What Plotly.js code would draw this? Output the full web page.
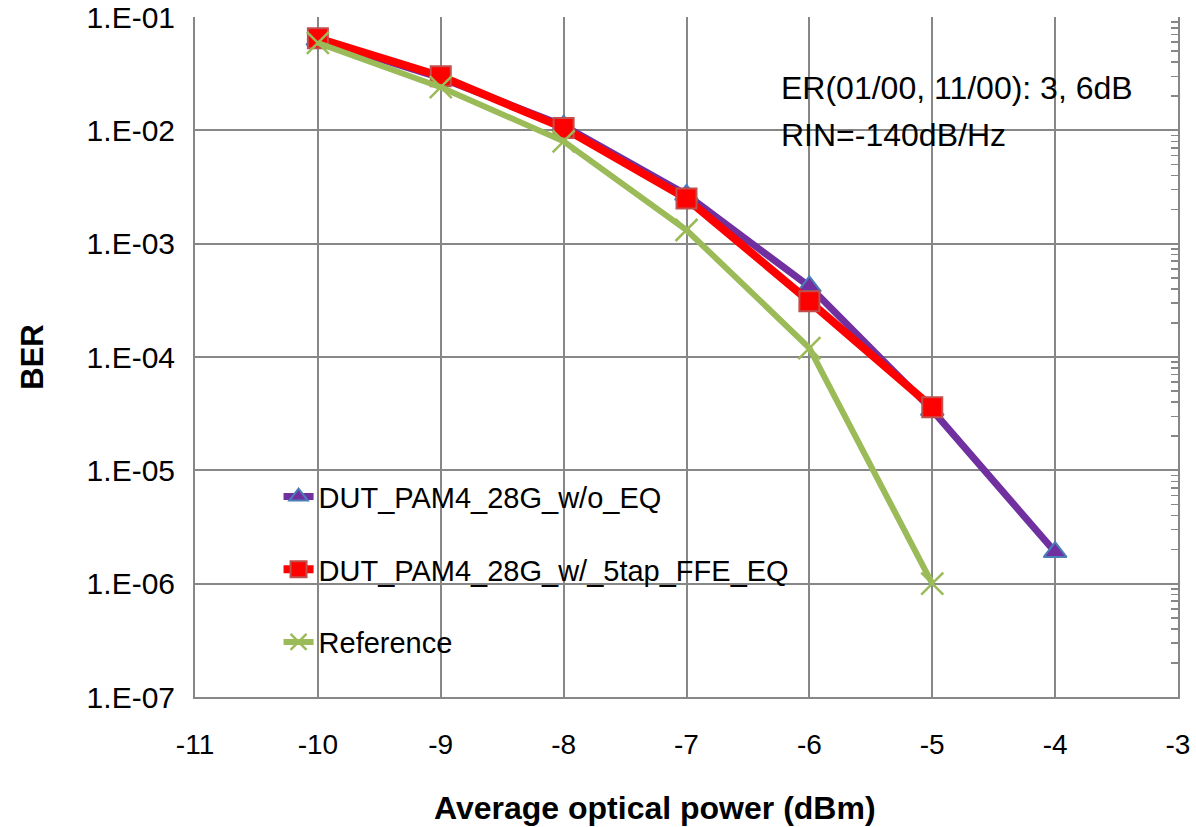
<!DOCTYPE html>
<html>
<head>
<meta charset="utf-8">
<script src="https://cdn.plot.ly/plotly-3.0.1.min.js"></script>
<style>html,body{margin:0;padding:0;background:#fff;}#chart{width:1196px;height:827px;}</style>
</head>
<body>
<div id="chart"></div>
<script>
const power = [-10, -9, -8, -7, -6, -5, -4];
const berNoEq = [0.063, 0.029, 0.011, 0.0027, 0.00042, 0.000034, 0.0000019];
const powerFfe = [-10, -9, -8, -7, -6, -5];
const berFfe = [0.065, 0.030, 0.0105, 0.0025, 0.00031, 0.000036];
const powerRef = [-10, -9, -8, -7, -6, -5];
const berRef = [0.059, 0.024, 0.0080, 0.00132, 0.00012, 0.0000010];
const names = ['DUT_PAM4_28G_w/o_EQ', 'DUT_PAM4_28G_w/_5tap_FFE_EQ', 'Reference'];
const xTickVals = [-11, -10, -9, -8, -7, -6, -5, -4, -3];
const xTickText = ['-11', '-10', '-9', '-8', '-7', '-6', '-5', '-4', '-3'];
const yTickVals = [1e-7, 1e-6, 1e-5, 1e-4, 1e-3, 1e-2, 1e-1];
const yTickText = ['1.E-07', '1.E-06', '1.E-05', '1.E-04', '1.E-03', '1.E-02', '1.E-01'];
const note = ['ER(01/00, 11/00): 3, 6dB', 'RIN=-140dB/Hz'];
const xTitle = 'Average optical power (dBm)';
const yTitle = 'BER';

const FONT = 'Liberation Sans, Arial, sans-serif';
const grid = '#878787';

const traces = [
  {x: power, y: berNoEq, name: names[0], mode: 'lines+markers', legendgroup: 'a',
   line: {color: '#7030a0', width: 7},
   marker: {symbol: 'triangle-up', size: 20, color: '#7030a0', line: {color: '#4a7ebb', width: 2}}},
  {x: powerFfe, y: berFfe, name: names[1], mode: 'lines+markers', legendgroup: 'b',
   line: {color: '#ff0000', width: 8},
   marker: {symbol: 'square', size: 20, color: '#ff0000', line: {color: '#c0504d', width: 2}}},
  {x: powerRef, y: berRef, name: names[2], mode: 'lines+markers', legendgroup: 'c', yaxis: 'y2',
   line: {color: '#9bbb59', width: 6},
   marker: {symbol: 'x-thin', size: 22, color: '#9bbb59', line: {color: '#9bbb59', width: 2.5}}}
];

const layout = {
  width: 1196, height: 827,
  margin: {l: 195, r: 18, t: 17, b: 130},
  paper_bgcolor: '#fff', plot_bgcolor: '#fff',
  font: {family: FONT, size: 28, color: '#000'},
  showlegend: true,
  legend: {x: 0.085, y: 0.332, xanchor: 'left', yanchor: 'top', bgcolor: 'rgba(255,255,255,0)',
           traceorder: 'grouped', tracegroupgap: 32, font: {family: FONT, size: 29}},
  xaxis: {range: [-11, -3], tickvals: xTickVals, ticktext: xTickText, showgrid: true, gridcolor: grid, gridwidth: 2,
          showline: true, linecolor: grid, linewidth: 2, zeroline: false, ticks: '',
          tickfont: {family: FONT, size: 28}, ticklabelstandoff: 21},
  yaxis: {type: 'log', range: [-7, -1], tickvals: yTickVals, ticktext: yTickText,
          showgrid: true, gridcolor: grid, gridwidth: 2, showline: true, linecolor: grid, linewidth: 2,
          zeroline: false, ticks: '', tickfont: {family: FONT, size: 30}, ticklabelstandoff: 12,
          title: {text: '<b>' + yTitle + '</b>', font: {family: FONT, size: 31}, standoff: 34}},
  yaxis2: {type: 'log', range: [-7, -1], overlaying: 'y', side: 'right', showgrid: false, dtick: 1,
           showticklabels: false, showline: true, linecolor: grid, linewidth: 2, zeroline: false,
           ticks: '', minor: {ticks: 'inside', ticklen: 7, tickcolor: grid, tickwidth: 1.5, showgrid: false, dtick: 'D1'}},
  annotations: [
    {xref: 'paper', yref: 'paper', x: 0.594, y: 0.896, xanchor: 'left', yanchor: 'middle', showarrow: false,
     align: 'left', text: note[0], font: {family: FONT, size: 32}},
    {xref: 'paper', yref: 'paper', x: 0.594, y: 0.826, xanchor: 'left', yanchor: 'middle', showarrow: false,
     align: 'left', text: note[1], font: {family: FONT, size: 32}},
    {xref: 'paper', yref: 'paper', x: 0.468, y: -0.163, xanchor: 'center', yanchor: 'middle', showarrow: false,
     text: '<b>' + xTitle + '</b>', font: {family: FONT, size: 32}}
  ]
};

Plotly.newPlot('chart', traces, layout, {staticPlot: true});
</script>
</body>
</html>
